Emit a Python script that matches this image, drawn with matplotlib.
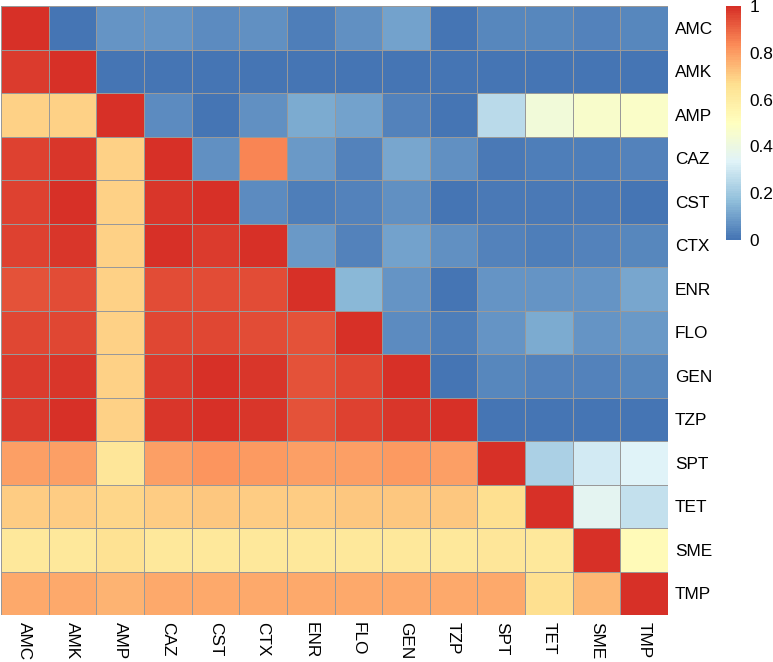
import numpy as np
import matplotlib
matplotlib.use("Agg")
import matplotlib.pyplot as plt
from matplotlib.colors import LinearSegmentedColormap, Normalize
import matplotlib.colorbar as mcolorbar

plt.rcParams['font.family'] = ['Liberation Sans', 'DejaVu Sans']

labels = ["AMC", "AMK", "AMP", "CAZ", "CST", "CTX", "ENR", "FLO", "GEN", "TZP", "SPT", "TET", "SME", "TMP"]

row_AMC = [1.00, 0.00, 0.07, 0.07, 0.05, 0.06, 0.02, 0.06, 0.10, 0.00, 0.04, 0.04, 0.03, 0.04]
row_AMK = [0.97, 1.00, 0.00, 0.00, 0.00, 0.00, 0.00, 0.00, 0.00, 0.00, 0.00, 0.00, 0.00, 0.00]
row_AMP = [0.69, 0.69, 1.00, 0.05, 0.00, 0.06, 0.12, 0.10, 0.03, 0.00, 0.25, 0.42, 0.46, 0.47]
row_CAZ = [0.96, 0.98, 0.69, 1.00, 0.06, 0.84, 0.08, 0.03, 0.11, 0.06, 0.01, 0.02, 0.02, 0.03]
row_CST = [0.96, 0.99, 0.69, 0.98, 1.00, 0.05, 0.02, 0.03, 0.06, 0.00, 0.01, 0.01, 0.01, 0.00]
row_CTX = [0.96, 0.98, 0.69, 0.99, 0.97, 1.00, 0.08, 0.03, 0.10, 0.06, 0.03, 0.02, 0.03, 0.04]
row_ENR = [0.93, 0.94, 0.69, 0.94, 0.94, 0.94, 1.00, 0.15, 0.07, 0.00, 0.07, 0.07, 0.07, 0.11]
row_FLO = [0.95, 0.95, 0.69, 0.95, 0.95, 0.94, 0.93, 1.00, 0.05, 0.02, 0.07, 0.12, 0.07, 0.08]
row_GEN = [0.97, 0.98, 0.69, 0.97, 0.99, 0.98, 0.93, 0.95, 1.00, 0.00, 0.04, 0.03, 0.03, 0.04]
row_TZP = [0.97, 0.99, 0.69, 0.98, 0.99, 0.98, 0.93, 0.96, 0.98, 1.00, 0.00, 0.00, 0.00, 0.00]
row_SPT = [0.79, 0.79, 0.63, 0.79, 0.81, 0.80, 0.79, 0.79, 0.80, 0.79, 1.00, 0.22, 0.30, 0.33]
row_TET = [0.70, 0.70, 0.68, 0.70, 0.71, 0.70, 0.70, 0.71, 0.71, 0.71, 0.66, 1.00, 0.35, 0.27]
row_SME = [0.62, 0.62, 0.65, 0.62, 0.62, 0.62, 0.62, 0.62, 0.62, 0.62, 0.63, 0.62, 1.00, 0.52]
row_TMP = [0.77, 0.77, 0.75, 0.77, 0.77, 0.77, 0.77, 0.77, 0.77, 0.77, 0.77, 0.66, 0.74, 1.00]

data = np.array([row_AMC, row_AMK, row_AMP, row_CAZ, row_CST, row_CTX, row_ENR,
                 row_FLO, row_GEN, row_TZP, row_SPT, row_TET, row_SME, row_TMP])

palette = ["#4575B4", "#91BFDB", "#E0F3F8", "#FFFFBF", "#FEE090", "#FC8D59", "#D73027"]
cmap = LinearSegmentedColormap.from_list("rdylbu_r", palette, N=100)
norm = Normalize(vmin=0, vmax=1)

W, H = 773, 662
fig = plt.figure(figsize=(W / 100, H / 100), dpi=100)

ax = fig.add_axes([1 / W, (H - 615) / H, 667 / W, 609 / H])
n = len(labels)
ax.pcolormesh(np.arange(n + 1), np.arange(n + 1), data, cmap=cmap, norm=norm,
              edgecolors="#999999", linewidth=0.7)
ax.set_xlim(0, n)
ax.set_ylim(n, 0)
for s in ax.spines.values():
    s.set_visible(False)
ax.yaxis.tick_right()
ax.set_yticks(np.arange(n) + 0.5)
ax.set_yticklabels(labels, fontsize=12.4)
ax.set_xticks(np.arange(n) + 0.5)
ax.set_xticklabels(labels, fontsize=12.4, rotation=270, va="top", ha="center")
ax.tick_params(axis="both", length=0, pad=5)

cax = fig.add_axes([726 / W, (H - 240) / H, 15 / W, 234 / H])
cb = mcolorbar.ColorbarBase(cax, cmap=cmap, norm=norm, orientation="vertical")
cb.outline.set_visible(False)
cb.set_ticks([0, 0.2, 0.4, 0.6, 0.8, 1])
cb.set_ticklabels(["0", "0.2", "0.4", "0.6", "0.8", "1"])
cax.tick_params(length=0, labelsize=12.4, pad=6)

fig.savefig("out.png", dpi=100)
